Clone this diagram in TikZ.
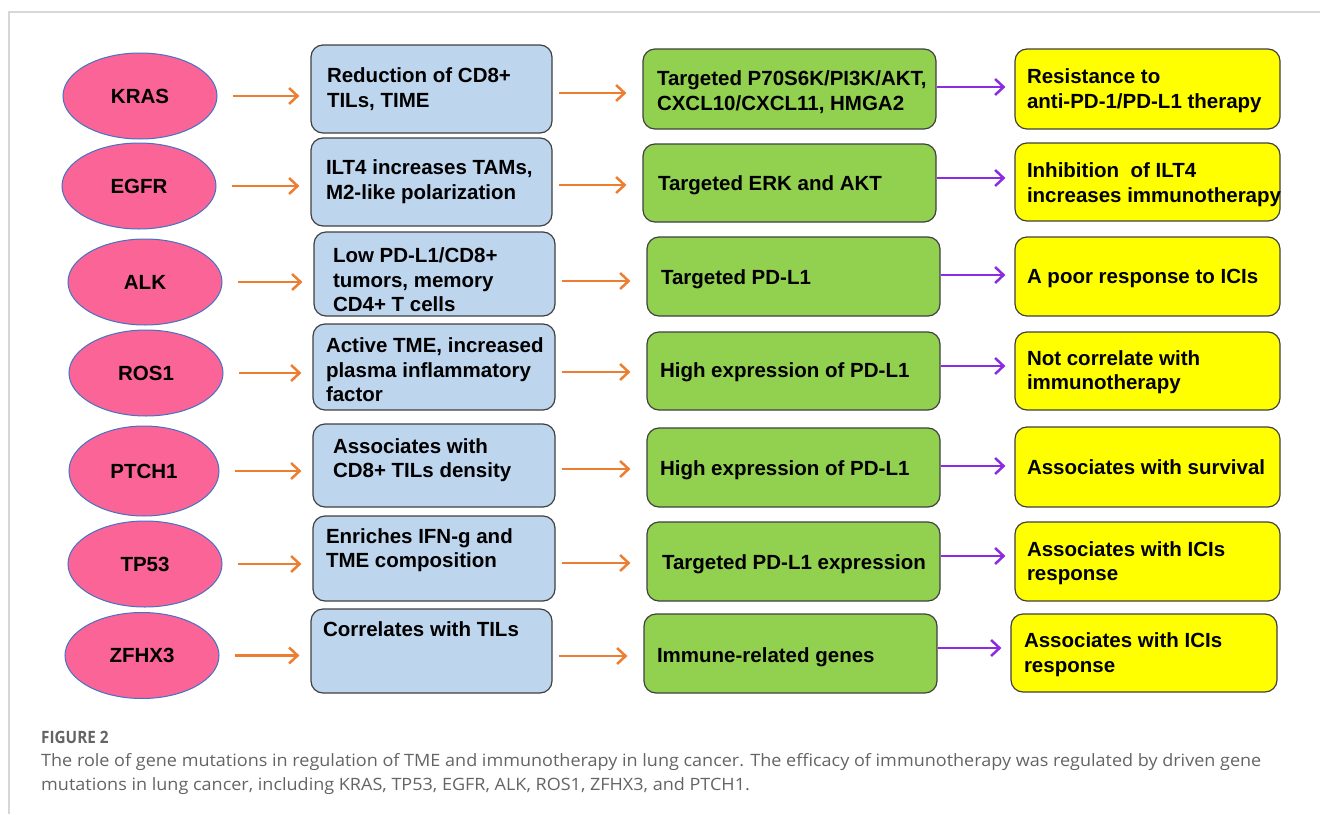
\documentclass[tikz,border=0pt]{standalone}
\usepackage{fontspec}
\setmainfont{Liberation Sans}
\newfontfamily\capfont[FakeStretch=0.9]{Open Sans}
\newfontfamily\capbodyfont[FakeStretch=1.06]{Open Sans}
\usetikzlibrary{shapes.geometric,arrows.meta}
\definecolor{genepink}{RGB}{250,100,150}
\definecolor{geneedge}{RGB}{68,114,196}
\definecolor{boxedge}{RGB}{64,64,64}
\definecolor{bluefill}{RGB}{190,213,238}
\definecolor{greenfill}{RGB}{146,208,80}
\definecolor{yellowfill}{RGB}{255,255,0}
\definecolor{arrorange}{RGB}{237,125,49}
\definecolor{arrpurple}{RGB}{139,43,226}
\definecolor{framegray}{RGB}{215,215,215}
\definecolor{capgray}{RGB}{100,100,100}
\newcommand\bt[3]{\hspace*{#1pt}\raisebox{#2pt}[0pt][0pt]{\begin{tabular}{@{}l@{}}#3\end{tabular}}}
\tikzset{
  gene/.style={ellipse, fill=genepink, draw=geneedge, line width=1pt, minimum width=154pt, minimum height=86pt, inner sep=0pt},
  rbox/.style={rectangle, rounded corners=12pt, draw=boxedge, line width=1.2pt, inner sep=0pt},
  bluebox/.style={rbox, fill=bluefill},
  greenbox/.style={rbox, fill=greenfill},
  yellowbox/.style={rbox, fill=yellowfill},
  oarr/.style={draw=arrorange, line width=2.5pt, -{Straight Barb[length=8.5pt,width=16pt]}},
  parr/.style={draw=arrpurple, line width=2.5pt, -{Straight Barb[length=8.5pt,width=16pt]}},
  figlabel/.style={font=\capfont\fontsize{17}{24}\selectfont\bfseries, text=capgray, inner sep=0pt, align=left},
  captext/.style={font=\capbodyfont\fontsize{17}{24}\selectfont\mdseries, text=capgray, inner sep=0pt, align=left}
}
\begin{document}
\begin{tikzpicture}[x=1pt, y=-1pt, font=\fontsize{20.5}{24.5}\selectfont\bfseries]
\useasboundingbox (0,0) rectangle (1320,814);
% frame
\draw[framegray, line width=1.5pt] (9,814) -- (9,12) -- (1320,12);

% genes
\node[gene] (e1) at (140,96) {KRAS};
\node[gene] (e2) at (139,186) {EGFR};
\node[gene] (e3) at (145,282) {ALK};
\node[gene] (e4) at (146,373) {ROS1};
\node[gene, minimum width=150pt, minimum height=90pt] (e5) at (144,471) {PTCH1};
\node[gene] (e6) at (145,564) {TP53};
\node[gene] (e7) at (142,655.5) {ZFHX3};

% blue boxes
\node[bluebox, minimum width=241pt, minimum height=88pt] (b1) at (431.5,89) {\makebox[241pt][l]{\bt{16}{-6.5}{Reduction of CD8+\\TILs, TIME}}};
\node[bluebox, minimum width=241pt, minimum height=88pt] (b2) at (431.5,182) {\makebox[241pt][l]{\bt{15}{-5.5}{ILT4 increases TAMs,\\M2-like polarization}}};
\node[bluebox, minimum width=241pt, minimum height=84pt] (b3) at (434.5,274) {\makebox[241pt][l]{\bt{19}{-13.5}{Low PD-L1/CD8+\\tumors, memory\\CD4+ T cells}}};
\node[bluebox, minimum width=242pt, minimum height=86pt] (b4) at (434,367) {\makebox[242pt][l]{\bt{13}{-10.5}{Active TME, increased\\plasma inflammatory\\factor}}};
\node[bluebox, minimum width=242pt, minimum height=83pt] (b5) at (434,465.5) {\makebox[242pt][l]{\bt{20}{-0.5}{Associates with\\CD8+ TILs density}}};
\node[bluebox, minimum width=242pt, minimum height=85pt] (b6) at (434,558.5) {\makebox[242pt][l]{\bt{13}{2.5}{Enriches IFN-g and\\TME composition}}};
\node[bluebox, minimum width=241pt, minimum height=84pt] (b7) at (431.5,651) {\makebox[241pt][l]{\bt{12}{2}{Correlates with TILs\\ \\ }}};

% green boxes
\node[greenbox, minimum width=293pt, minimum height=80pt] (g1) at (789.5,89) {\makebox[293pt][l]{\bt{14}{-9.5}{Targeted P70S6K/PI3K/AKT,\\CXCL10/CXCL11, HMGA2}}};
\node[greenbox, minimum width=293pt, minimum height=78pt] (g2) at (789.5,183) {\makebox[293pt][l]{\bt{15}{-7.5}{Targeted ERK and AKT}}};
\node[greenbox, minimum width=293pt, minimum height=79pt] (g3) at (793.5,276.5) {\makebox[293pt][l]{\bt{14}{-8}{Targeted PD-L1}}};
\node[greenbox, minimum width=293pt, minimum height=78pt] (g4) at (793.5,371) {\makebox[293pt][l]{\bt{13}{-6.5}{High expression of PD-L1}}};
\node[greenbox, minimum width=293pt, minimum height=79pt] (g5) at (793.5,467.5) {\makebox[293pt][l]{\bt{13}{-8}{High expression of PD-L1}}};
\node[greenbox, minimum width=293pt, minimum height=79pt] (g6) at (793.5,561.5) {\makebox[293pt][l]{\bt{15}{-8}{Targeted PD-L1 expression}}};
\node[greenbox, minimum width=293pt, minimum height=79pt] (g7) at (790.5,653.5) {\makebox[293pt][l]{\bt{13}{-9}{Immune-related genes}}};

% yellow boxes
\node[yellowbox, minimum width=265pt, minimum height=80pt] (y1) at (1147.5,89) {\makebox[265pt][l]{\bt{12}{-7.5}{Resistance to\\anti-PD-1/PD-L1 therapy}}};
\node[yellowbox, minimum width=265pt, minimum height=78pt] (y2) at (1147.5,182) {\makebox[265pt][l]{\bt{12}{-8.5}{Inhibition\ \ of ILT4\\increases immunotherapy}}};
\node[yellowbox, minimum width=265pt, minimum height=79pt] (y3) at (1147.5,276.5) {\makebox[265pt][l]{\bt{12}{-7}{A poor response to ICIs}}};
\node[yellowbox, minimum width=265pt, minimum height=78pt] (y4) at (1147.5,371) {\makebox[265pt][l]{\bt{12}{-7}{Not correlate with\\immunotherapy}}};
\node[yellowbox, minimum width=265pt, minimum height=80pt] (y5) at (1147.5,467) {\makebox[265pt][l]{\bt{12}{-7.5}{Associates with survival}}};
\node[yellowbox, minimum width=265pt, minimum height=79pt] (y6) at (1147.5,561.5) {\makebox[265pt][l]{\bt{12}{-7.5}{Associates with ICIs\\response}}};
\node[yellowbox, minimum width=266pt, minimum height=78pt] (y7) at (1144,653) {\makebox[266pt][l]{\bt{13}{-7.5}{Associates with ICIs\\response}}};

% arrows gene -> blue
\foreach \i in {1,...,7}{
  \draw[oarr, shorten <=15pt, shorten >=11pt] (e\i.east) -- (e\i.east -| b\i.west);
}
% arrows blue -> green
\foreach \i/\s in {1/4,2/3,3/7,4/5,5/3.5,6/4.5,7/5}{
  \draw[oarr, shorten <=6pt, shorten >=16pt] ([yshift=-\s pt]b\i.east) -- ([yshift=-\s pt]b\i.east -| g\i.west);
}
% arrows green -> yellow
\foreach \i/\s in {1/2,2/5,3/1.5,4/5,5/1.5,6/5.5,7/5.5}{
  \draw[parr, shorten <=0.5pt, shorten >=9pt] ([yshift=\s pt]g\i.east) -- ([yshift=\s pt]g\i.east -| y\i.west);
}

% caption
\node[figlabel, anchor=base west] (fig) at (41,743) {FIGURE 2};
\node[captext, anchor=base west] (cap) at (41,790) {The role of gene mutations in regulation of TME and immunotherapy in lung cancer. The efficacy of immunotherapy was regulated by driven gene\\mutations in lung cancer, including KRAS, TP53, EGFR, ALK, ROS1, ZFHX3, and PTCH1.};
\end{tikzpicture}
\end{document}
